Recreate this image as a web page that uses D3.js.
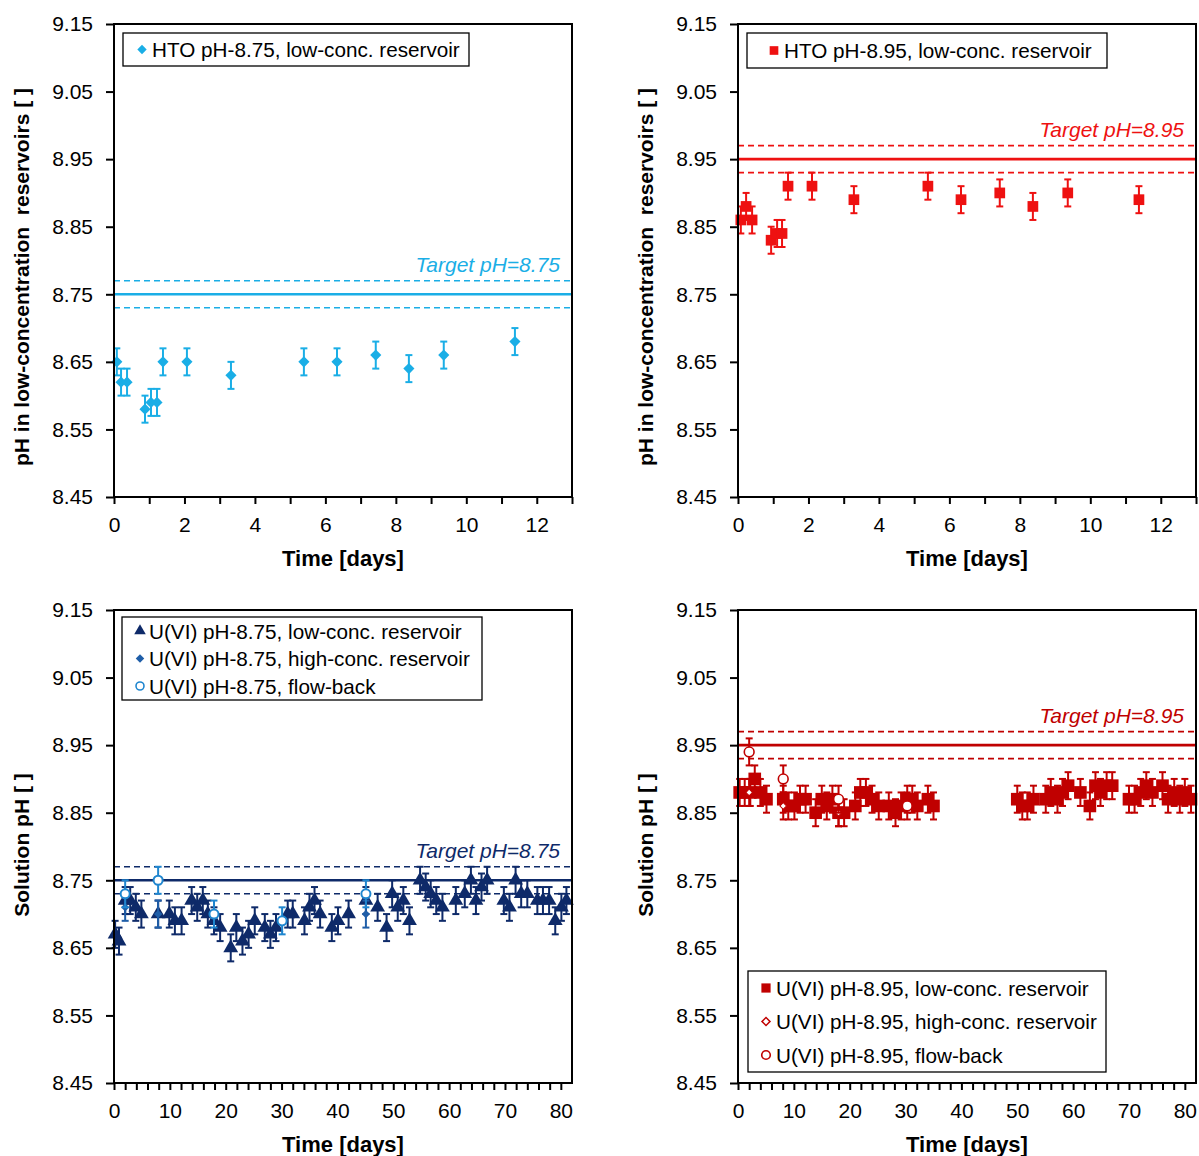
<!DOCTYPE html>
<html><head><meta charset="utf-8">
<script src="https://cdn.jsdelivr.net/npm/d3@7"></script>
<style>body{margin:0;background:#fff}svg{display:block;font-family:"Liberation Sans",Arial,sans-serif}</style>
</head><body><svg id="c" width="1199" height="1156"></svg>
<script>
// ---------- data ----------
const yTicks = [8.45, 8.55, 8.65, 8.75, 8.85, 8.95, 9.05, 9.15];
const errPH = 0.02;
const tolPH = 0.02;

// HTO pH-8.75 low-conc reservoir
const htoA_t  = [0.08,0.2,0.37,0.88,1.05,1.22,1.39,2.07,3.32,5.39,6.33,7.43,8.37,9.36,11.38];
const htoA_pH = [8.65,8.62,8.62,8.58,8.59,8.59,8.65,8.65,8.63,8.65,8.65,8.66,8.64,8.66,8.68];
// HTO pH-8.95 low-conc reservoir
const htoB_t  = [0.08,0.23,0.4,0.94,1.11,1.25,1.42,2.1,3.29,5.39,6.33,7.43,8.37,9.36,11.38];
const htoB_pH = [8.86,8.88,8.86,8.83,8.84,8.84,8.91,8.91,8.89,8.91,8.89,8.90,8.88,8.90,8.89];

// U(VI) pH-8.75
const uA_low_t  = [0.2,0.9,2.0,2.9,3.9,4.9,7.9,9.9,10.9,12.1,13.9,14.9,15.9,16.8,17.9,19.0,20.9,21.9,23.0,24.1,25.2,27.0,28.0,29.0,31.1,32.0,34.1,35.0,35.9,36.9,39.0,40.1,42.0,45.1,47.2,48.8,49.8,50.8,51.8,52.9,54.8,55.8,56.7,57.7,58.8,61.2,62.8,63.9,64.8,65.8,66.8,69.8,70.8,71.9,72.9,74.0,75.8,76.8,77.9,79.0,80.1,81.0];
const uA_low_pH = [8.67,8.66,8.72,8.72,8.71,8.70,8.70,8.70,8.69,8.69,8.72,8.71,8.72,8.70,8.69,8.68,8.65,8.68,8.66,8.67,8.69,8.68,8.67,8.68,8.70,8.70,8.69,8.71,8.72,8.70,8.68,8.69,8.70,8.72,8.71,8.68,8.73,8.71,8.72,8.69,8.75,8.74,8.73,8.72,8.71,8.72,8.73,8.75,8.72,8.74,8.75,8.72,8.71,8.75,8.73,8.73,8.72,8.72,8.72,8.69,8.71,8.72];
const uA_high_t  = [2.0,7.9,45.1];
const uA_high_pH = [8.71,8.70,8.70];
const uA_fb_t  = [2.0,7.9,17.9,30.1,45.1];
const uA_fb_pH = [8.73,8.75,8.70,8.69,8.73];

// U(VI) pH-8.95
const uB_low_t  = [0.3,1.2,2.2,3.0,4.0,5.1,8.1,9.0,10.1,11.1,12.1,13.9,15.0,15.9,16.9,18.0,19.0,21.0,21.9,22.9,24.0,25.2,27.0,28.2,29.2,30.3,31.2,32.1,34.0,35.0,50.0,50.9,51.8,52.9,55.1,56.0,57.2,58.1,59.1,61.3,63.0,64.0,64.9,66.0,67.0,70.0,71.0,72.1,73.1,74.2,76.0,77.0,78.1,79.1,80.0,81.1];
const uB_low_pH = [8.88,8.88,8.88,8.90,8.88,8.87,8.87,8.86,8.86,8.87,8.87,8.85,8.87,8.86,8.87,8.85,8.85,8.86,8.88,8.88,8.87,8.86,8.86,8.85,8.86,8.87,8.87,8.86,8.87,8.86,8.87,8.86,8.86,8.87,8.87,8.88,8.87,8.88,8.89,8.88,8.86,8.89,8.88,8.89,8.89,8.87,8.87,8.88,8.89,8.88,8.89,8.87,8.88,8.87,8.88,8.87];
const uB_high_t  = [2.0,8.1,18.0];
const uB_high_pH = [8.88,8.86,8.85];
const uB_fb_t  = [2.0,8.1,18.0,30.3];
const uB_fb_pH = [8.94,8.90,8.87,8.86];

const topXTicks = d3.range(0, 14, 1);
const topXLabels = [0,2,4,6,8,10,12];
const botXTicks = d3.range(0, 82, 2);
const botXLabels = [0,10,20,30,40,50,60,70,80];

// ---------- drawing ----------
const svg = d3.select("#c");
const zip = (t, p) => t.map((d, i) => ({t: d, pH: p[i]}));
const FONT = "Liberation Sans, Arial, sans-serif";

function panel(cfg) {
  const g = svg.append("g");
  const x = d3.scaleLinear().domain(cfg.xDomain).range([cfg.x0, cfg.x1]);
  const y = d3.scaleLinear().domain([8.45, 9.15]).range([cfg.y1, cfg.y0]);

  // target lines
  const tg = cfg.target;
  g.append("line").attr("x1", cfg.x0).attr("x2", cfg.x1).attr("y1", y(tg.v)).attr("y2", y(tg.v))
    .attr("stroke", tg.color).attr("stroke-width", 2.6);
  [tg.v + tolPH, tg.v - tolPH].forEach(v => {
    g.append("line").attr("x1", cfg.x0).attr("x2", cfg.x1).attr("y1", y(v)).attr("y2", y(v))
      .attr("stroke", tg.color).attr("stroke-width", 1.6).attr("stroke-dasharray", "6,4");
  });
  g.append("text").attr("x", cfg.x1 - 12).attr("y", y(tg.v + tolPH) - 9)
    .attr("text-anchor", "end").attr("font-style", "italic").attr("font-size", 21)
    .attr("fill", tg.color).text(tg.label);

  // series
  cfg.series.forEach(s => {
    const data = zip(s.t, s.pH);
    const sg = g.append("g");
    data.forEach(d => {
      const cx = x(d.t), yt = y(d.pH + errPH), yb = y(d.pH - errPH);
      sg.append("line").attr("x1", cx).attr("x2", cx).attr("y1", yt).attr("y2", yb)
        .attr("stroke", s.errColor).attr("stroke-width", 2);
      [yt, yb].forEach(yy => sg.append("line").attr("x1", cx - 3.5).attr("x2", cx + 3.5)
        .attr("y1", yy).attr("y2", yy).attr("stroke", s.errColor).attr("stroke-width", 2));
    });
    sg.selectAll("path.m").data(data).join("path")
      .attr("d", d3.symbol().type(s.symbol).size(s.size))
      .attr("transform", d => `translate(${x(d.t)},${y(d.pH)})${s.rot ? " rotate(45)" : ""}`)
      .attr("fill", s.fill).attr("stroke", s.stroke || "none").attr("stroke-width", s.sw || 0);
  });

  // frame
  g.append("rect").attr("x", cfg.x0).attr("y", cfg.y0).attr("width", cfg.x1 - cfg.x0)
    .attr("height", cfg.y1 - cfg.y0).attr("fill", "none").attr("stroke", "#000").attr("stroke-width", 2);

  // y axis
  const ya = g.append("g").attr("transform", `translate(${cfg.x0},0)`)
    .call(d3.axisLeft(y).tickValues(yTicks).tickFormat(d3.format(".2f")).tickSize(8).tickPadding(13));
  ya.select(".domain").remove();
  ya.selectAll("line").attr("stroke-width", 2);
  ya.selectAll("text").attr("font-size", 21).attr("fill", "#000").attr("font-family", FONT);

  // x axis
  const xa = g.append("g").attr("transform", `translate(0,${cfg.y1})`)
    .call(d3.axisBottom(x).tickValues(cfg.xTicks).tickSize(7)
      .tickFormat(d => cfg.xLabels.includes(d) ? d : "").tickPadding(13));
  xa.select(".domain").remove();
  xa.selectAll("line").attr("stroke-width", 2);
  xa.selectAll("text").attr("font-size", 21).attr("fill", "#000").attr("font-family", FONT);

  // axis titles
  g.append("text").attr("x", (cfg.x0 + cfg.x1) / 2).attr("y", cfg.y1 + 69)
    .attr("text-anchor", "middle").attr("font-weight", "bold").attr("font-size", 22).text("Time [days]");
  g.append("text").attr("transform", `translate(${cfg.x0 - 85},${cfg.yTitleC}) rotate(-90)`)
    .attr("text-anchor", "middle").attr("font-weight", "bold").attr("font-size", 21)
    .attr("xml:space", "preserve").style("white-space", "pre").text(cfg.yTitle);

  // legend
  const L = cfg.legend;
  g.append("rect").attr("x", L.x).attr("y", L.y).attr("width", L.w).attr("height", L.h)
    .attr("fill", "#fff").attr("stroke", "#000").attr("stroke-width", 1.3);
  L.items.forEach((it, i) => {
    const cy = L.y + L.first + i * L.step;
    g.append("path").attr("d", d3.symbol().type(it.symbol).size(it.size))
      .attr("transform", `translate(${L.x + L.mx},${cy})${it.rot ? " rotate(45)" : ""}`)
      .attr("fill", it.fill).attr("stroke", it.stroke || "none").attr("stroke-width", it.sw || 0);
    g.append("text").attr("x", L.x + L.tx).attr("y", cy + 7.5).attr("font-size", 20.7).text(it.label);
  });
}

const cyan = "#1aaee6", red = "#ee1111", navy = "#0e2a69", dred = "#c00000";

panel({
  x0: 114, x1: 572, y0: 24, y1: 497, xDomain: [0, 13], xTicks: topXTicks, xLabels: topXLabels,
  yTitle: "pH in low-concentration  reservoirs [ ]", yTitleC: 277,
  target: {v: 8.75, color: cyan, label: "Target pH=8.75"},
  series: [{t: htoA_t, pH: htoA_pH, symbol: d3.symbolSquare, rot: true, size: 62, fill: cyan, errColor: cyan}],
  legend: {x: 123, y: 33, w: 346, h: 33, first: 16.5, step: 0, mx: 19, tx: 29,
    items: [{symbol: d3.symbolSquare, rot: true, size: 44, fill: cyan, label: "HTO pH-8.75, low-conc. reservoir"}]}
});
panel({
  x0: 738, x1: 1196, y0: 24, y1: 497, xDomain: [0, 13], xTicks: topXTicks, xLabels: topXLabels,
  yTitle: "pH in low-concentration  reservoirs [ ]", yTitleC: 277,
  target: {v: 8.95, color: red, label: "Target pH=8.95"},
  series: [{t: htoB_t, pH: htoB_pH, symbol: d3.symbolSquare, size: 115, fill: red, errColor: red}],
  legend: {x: 747, y: 33, w: 360, h: 35, first: 17.5, step: 0, mx: 27, tx: 37,
    items: [{symbol: d3.symbolSquare, size: 75, fill: red, label: "HTO pH-8.95, low-conc. reservoir"}]}
});
panel({
  x0: 114, x1: 572, y0: 610, y1: 1083, xDomain: [0, 82], xTicks: botXTicks, xLabels: botXLabels,
  yTitle: "Solution pH [ ]", yTitleC: 845,
  target: {v: 8.75, color: navy, label: "Target pH=8.75"},
  series: [
    {t: uA_low_t, pH: uA_low_pH, symbol: d3.symbolTriangle, size: 95, fill: navy, errColor: navy},
    {t: uA_high_t, pH: uA_high_pH, symbol: d3.symbolSquare, rot: true, size: 34, fill: "#1f5ea8", errColor: "#1f5ea8"},
    {t: uA_fb_t, pH: uA_fb_pH, symbol: d3.symbolCircle, size: 65, fill: "#fff", stroke: "#1f86cf", sw: 2, errColor: "#1f86cf"}
  ],
  legend: {x: 122, y: 617, w: 360, h: 83, first: 14, step: 27.5, mx: 18, tx: 27,
    items: [
      {symbol: d3.symbolTriangle, size: 58, fill: navy, label: "U(VI) pH-8.75, low-conc. reservoir"},
      {symbol: d3.symbolSquare, rot: true, size: 36, fill: "#1f5ea8", label: "U(VI) pH-8.75, high-conc. reservoir"},
      {symbol: d3.symbolCircle, size: 50, fill: "#fff", stroke: "#1f86cf", sw: 1.6, label: "U(VI) pH-8.75, flow-back"}
    ]}
});
panel({
  x0: 738, x1: 1196, y0: 610, y1: 1083, xDomain: [0, 82], xTicks: botXTicks, xLabels: botXLabels,
  yTitle: "Solution pH [ ]", yTitleC: 845,
  target: {v: 8.95, color: dred, label: "Target pH=8.95"},
  series: [
    {t: uB_low_t, pH: uB_low_pH, symbol: d3.symbolSquare, size: 160, fill: dred, errColor: dred},
    {t: uB_high_t, pH: uB_high_pH, symbol: d3.symbolSquare, rot: true, size: 22, fill: "#fff", stroke: dred, sw: 1, errColor: dred},
    {t: uB_fb_t, pH: uB_fb_pH, symbol: d3.symbolCircle, size: 75, fill: "#fff", stroke: dred, sw: 1.6, errColor: dred}
  ],
  legend: {x: 748, y: 971, w: 358, h: 101, first: 17, step: 33.5, mx: 18, tx: 28,
    items: [
      {symbol: d3.symbolSquare, size: 85, fill: dred, label: "U(VI) pH-8.95, low-conc. reservoir"},
      {symbol: d3.symbolSquare, rot: true, size: 32, fill: "#fff", stroke: dred, sw: 1.5, label: "U(VI) pH-8.95, high-conc. reservoir"},
      {symbol: d3.symbolCircle, size: 58, fill: "#fff", stroke: dred, sw: 1.6, label: "U(VI) pH-8.95, flow-back"}
    ]}
});
</script></body></html>
